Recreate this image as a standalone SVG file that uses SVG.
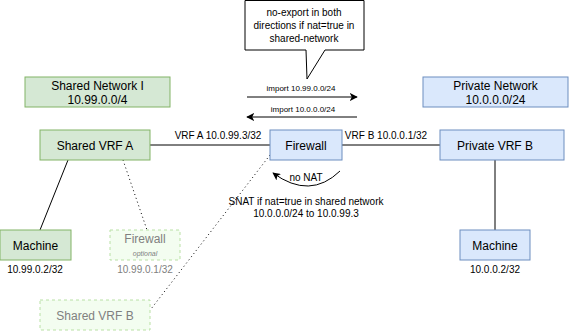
<svg xmlns="http://www.w3.org/2000/svg" width="569" height="331" viewBox="0 0 569 331">
<defs>
<style>
.t{font-family:"Liberation Sans",Arial,sans-serif;text-anchor:middle;fill:#000}
.n{font-size:12px}
.s{font-size:10px}
.g{fill:#d5e8d4;stroke:#82b366;stroke-width:1}
.b{fill:#dae8fc;stroke:#6c8ebf;stroke-width:1}
.o{fill:#f3fdf0;stroke:#b9e0a5;stroke-width:1;stroke-dasharray:3 3}
.gt{fill:#808080}
.l{fill:none;stroke:#000;stroke-width:1}
.d{fill:none;stroke:#000;stroke-width:1;stroke-dasharray:1 3}
</style>
<marker id="ah" viewBox="0 0 10 10" refX="9" refY="5" markerWidth="8" markerHeight="8" orient="auto" markerUnits="userSpaceOnUse">
<path d="M0,0 L10,5 L0,10 L2.5,5 Z" fill="#000"/>
</marker>
</defs>
<rect width="569" height="331" fill="#fff"/>
<g id="connectors">
<line class="l" x1="150" y1="145" x2="270" y2="145"/>
<line class="l" x1="342" y1="145" x2="440" y2="145"/>
<line class="l" x1="68" y1="160" x2="40" y2="230"/>
<line class="d" x1="123" y1="160" x2="147" y2="230"/>
<line class="d" x1="270" y1="155" x2="151" y2="309"/>
<line class="l" x1="495" y1="160" x2="495" y2="230"/>
<line class="l" x1="247" y1="97" x2="357" y2="97" marker-end="url(#ah)"/>
<line class="l" x1="357" y1="117" x2="247" y2="117" marker-end="url(#ah)"/>
<path class="l" d="M340,171 Q310,200 273,173" marker-end="url(#ah)"/>
<text class="t" x="218" y="139" font-size="10">VRF A 10.0.99.3/32</text>
<text class="t" x="386" y="139" font-size="10">VRF B 10.0.0.1/32</text>
<text class="t" x="301" y="91" font-size="8">import 10.99.0.0/24</text>
<text class="t" x="303" y="112" font-size="8">import 10.0.0.0/24</text>
<text class="t" x="306" y="181" font-size="10">no NAT</text>
<text class="t" x="306" y="205" font-size="10">SNAT if nat=true in shared network</text>
<text class="t" x="306" y="217" font-size="10">10.0.0.0/24 to 10.0.99.3</text>
</g>
<g id="callout">
<path d="M245,0.5 H364 V50 H325 L307,79 L306,50 H245 Z" fill="#fff" stroke="#000"/>
<text class="t" x="304" y="16" font-size="10">no-export in both</text>
<text class="t" x="304" y="29" font-size="10">directions if nat=true in</text>
<text class="t" x="304" y="42" font-size="10">shared-network</text>
</g>
<g id="shared-network">
<rect class="g" x="25" y="77" width="145" height="30"/>
<text class="t n" x="97.5" y="90">Shared Network I</text>
<text class="t n" x="97.5" y="104">10.99.0.0/4</text>
</g>
<g id="private-network">
<rect class="b" x="423" y="77" width="145" height="30"/>
<text class="t n" x="495.5" y="90">Private Network</text>
<text class="t n" x="495.5" y="104">10.0.0.0/24</text>
</g>
<g id="shared-vrf-a">
<rect class="g" x="40" y="130" width="110" height="30"/>
<text class="t n" x="95" y="149.5">Shared VRF A</text>
</g>
<g id="firewall">
<rect class="b" x="270" y="130" width="72" height="30"/>
<text class="t n" x="306" y="149.5">Firewall</text>
</g>
<g id="private-vrf-b">
<rect class="b" x="440" y="130" width="124" height="30"/>
<text class="t n" x="495" y="149.5">Private VRF B</text>
</g>
<g id="machine-a">
<rect class="g" x="0" y="230" width="71" height="30"/>
<text class="t n" x="35.5" y="249.5">Machine</text>
<text class="t s" x="35" y="273">10.99.0.2/32</text>
</g>
<g id="firewall-optional">
<rect class="o" x="110" y="230" width="70" height="30"/>
<text class="t n gt" x="145" y="243">Firewall</text>
<text class="t gt" x="145" y="256" font-size="7" font-style="italic">optional</text>
<text class="t s gt" x="145" y="273">10.99.0.1/32</text>
</g>
<g id="shared-vrf-b">
<rect class="o" x="40" y="300" width="110" height="30"/>
<text class="t n gt" x="95" y="319.5">Shared VRF B</text>
</g>
<g id="machine-b">
<rect class="b" x="460" y="230" width="70" height="30"/>
<text class="t n" x="495" y="249.5">Machine</text>
<text class="t s" x="495" y="273">10.0.0.2/32</text>
</g>
</svg>
